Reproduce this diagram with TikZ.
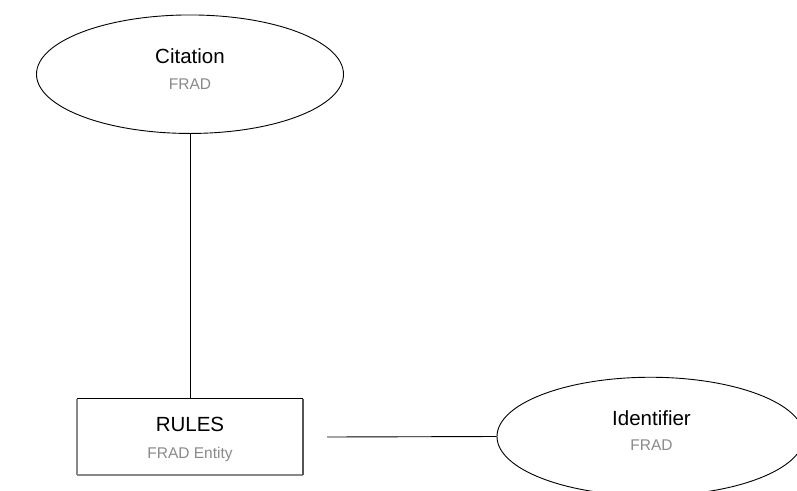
\documentclass[tikz,border=0pt]{standalone}
\usepackage{fontspec}
\setmainfont{Liberation Sans}
\usetikzlibrary{shapes.geometric}
\definecolor{subgray}{HTML}{8A8A8A}
\definecolor{edgegray}{HTML}{888888}
\definecolor{edgedark}{HTML}{555555}
\tikzset{
  entityell/.style={draw=black, line width=0.9pt, ellipse, inner sep=0pt, minimum width=307pt, minimum height=118.5pt},
  titletext/.style={anchor=base, inner sep=0pt, font=\fontsize{20.5}{24}\selectfont, text=black},
  subtext/.style={anchor=base, inner sep=0pt, font=\fontsize{15.5}{18}\selectfont, text=subgray},
  conn/.style={draw=black, line width=0.9pt},
  boxarea/.style={inner sep=0pt, minimum width=226pt, minimum height=76pt}
}
\begin{document}
\begin{tikzpicture}[x=1pt, y=-1pt]
\path[use as bounding box, clip] (0,0) rectangle (797,490);
\fill[white] (0,0) rectangle (797,490);
% Citation
\node[entityell] (cite) at (190,74.2) {};
\node[titletext] (citeT) at (190,63.3) {Citation};
\node[subtext] (citeS) at (190,89.3) {FRAD};
% RULES box
\node[boxarea] (rules) at (190,437) {};
\draw[black, line width=0.9pt] (rules.north west) -- (rules.north east);
\draw[edgegray, line width=1.8pt] (rules.north west) -- (rules.south west);
\draw[edgegray, line width=1.5pt] (rules.south west) -- (rules.south east);
\draw[edgedark, line width=1.5pt] (rules.north east) -- (rules.south east);
\node[titletext] (rulesT) at (190,431.7) {RULES};
\node[subtext] (rulesS) at (190,458.3) {FRAD Entity};
% Identifier
\node[entityell] (ident) at (650.5,436.5) {};
\node[titletext] (identT) at (651.5,425) {Identifier};
\node[subtext] (identS) at (651.5,450.7) {FRAD};
% connectors
\coordinate (hstart) at (327,437);
\draw[conn] (cite.south) -- (rules.north);
\draw[conn] (hstart) -- (ident.west);
\end{tikzpicture}
\end{document}
